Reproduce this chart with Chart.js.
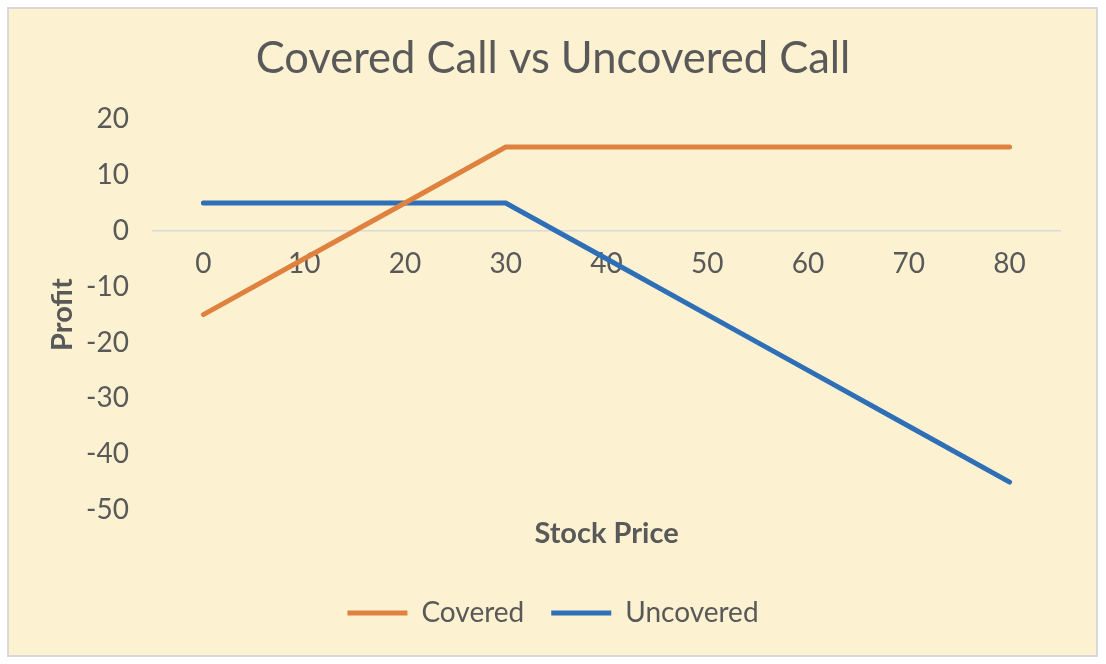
<!DOCTYPE html>
<html>
<head>
<meta charset="utf-8">
<script src="https://cdn.jsdelivr.net/npm/chart.js@4.4.1/dist/chart.umd.min.js"></script>
<style>
  html, body { margin: 0; padding: 0; background: #ffffff; }
  #wrap { position: relative; width: 1106px; height: 664px; }
  #card { position: absolute; left: 7px; top: 7px; width: 1091px; height: 650px; box-sizing: border-box;
          background: #FCF1D0; border: 2px solid #d9d9d9; }
  #c { position: absolute; left: 0; top: 0; }
</style>
</head>
<body>
<div id="wrap">
  <div id="card"></div>
  <canvas id="c" width="1106" height="664"></canvas>
</div>
<script>
const categories = ['0', '10', '20', '30', '40', '50', '60', '70', '80'];
const coveredValues = [-15, -5, 5, 15, 15, 15, 15, 15, 15];
const uncoveredValues = [5, 5, 5, 5, -5, -15, -25, -35, -45];
const yTickValues = [-50, -40, -30, -20, -10, 0, 10, 20];

const TEXT = '#595959';
const FONT = 'Lato';

new Chart(document.getElementById('c'), {
  type: 'line',
  data: {
    labels: categories,
    datasets: [
      { label: 'Covered', data: coveredValues, borderColor: '#E0823F', backgroundColor: '#E0823F',
        borderWidth: 5, pointRadius: 0, pointHoverRadius: 0, tension: 0, borderCapStyle: 'round', borderJoinStyle: 'miter', xAxisID: 'x', yAxisID: 'y' },
      { label: 'Uncovered', data: uncoveredValues, borderColor: '#2E6FB7', backgroundColor: '#2E6FB7',
        borderWidth: 5, pointRadius: 0, pointHoverRadius: 0, tension: 0, borderCapStyle: 'round', borderJoinStyle: 'miter', xAxisID: 'x', yAxisID: 'y' }
    ]
  },
  options: {
    responsive: false,
    animation: false,
    devicePixelRatio: 1,
    layout: { padding: { left: 0, right: 0, top: 0, bottom: 27 } },
    plugins: {
      tooltip: { enabled: false },
      title: {
        display: true,
        text: 'Covered Call vs Uncovered Call',
        color: TEXT,
        font: { family: FONT, size: 43.5, weight: 'normal', lineHeight: 1.2 },
        padding: { top: 33, bottom: 34 }
      },
      legend: {
        position: 'bottom',
        labels: {
          color: TEXT,
          font: { family: FONT, size: 28 },
          usePointStyle: true,
          pointStyle: 'line',
          pointStyleWidth: 60,
          padding: 27
        }
      }
    },
    scales: {
      x: {
        type: 'category',
        position: { y: 0 },
        offset: true,
        grid: { display: false, drawTicks: false },
        border: { display: true, color: '#d9d9d9', width: 1.5 },
        ticks: { color: TEXT, font: { family: FONT, size: 28 }, padding: 16, maxRotation: 0, autoSkip: false },
        afterFit: (s) => { s.height = 0; }
      },
      x2: {
        type: 'category',
        position: 'bottom',
        offset: true,
        grid: { display: false, drawTicks: false },
        border: { display: false },
        ticks: { display: false },
        title: { display: true, text: 'Stock Price', color: TEXT,
                 font: { family: FONT, size: 29, weight: 'bold', lineHeight: 1.2 }, padding: { top: 0, bottom: 20.5 } },
        afterFit: (s) => { s.height = 62; }
      },
      y: {
        type: 'linear',
        position: 'left',
        min: -50,
        max: 20,
        afterBuildTicks: (s) => { s.ticks = yTickValues.map(v => ({ value: v })); },
        grid: { display: false, drawTicks: false },
        border: { display: false },
        ticks: { color: TEXT, font: { family: FONT, size: 28 }, padding: 24 },
        title: { display: true, text: 'Profit', color: TEXT,
                 font: { family: FONT, size: 29, weight: 'bold', lineHeight: 1.2 }, padding: { top: 45, bottom: 0 } },
        afterFit: (s) => { s.width = 153; }
      },
      yRight: {
        type: 'linear',
        position: 'right',
        min: -50,
        max: 20,
        grid: { display: false, drawTicks: false },
        border: { display: false },
        ticks: { display: false },
        afterFit: (s) => { s.width = 46; }
      }
    }
  }
});
</script>
</body>
</html>
